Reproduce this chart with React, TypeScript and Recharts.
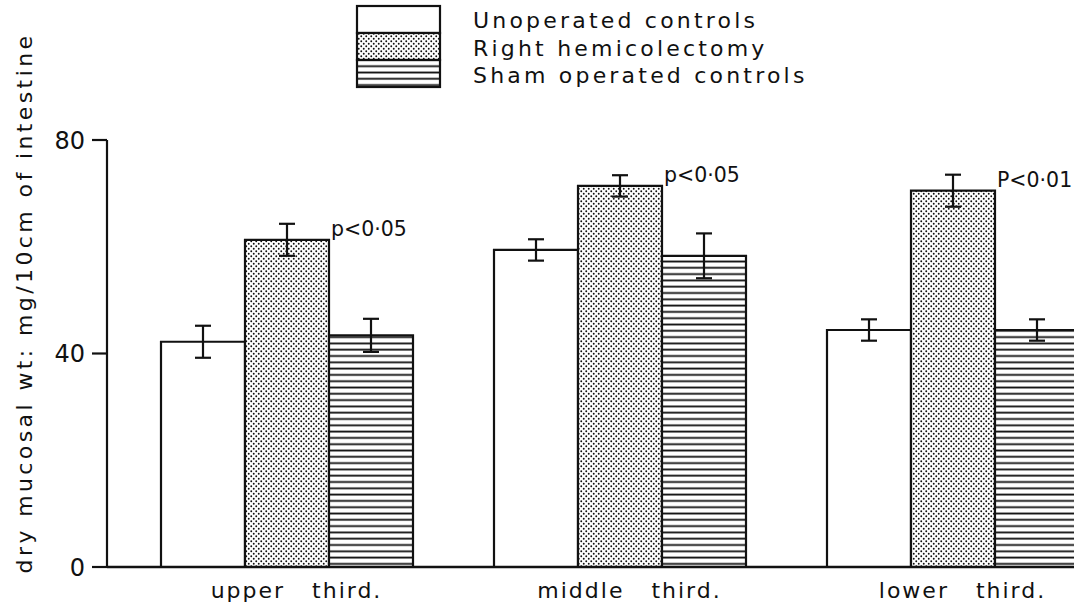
import React from 'react';
import { BarChart, Bar, XAxis, YAxis, ErrorBar, LabelList, Legend, Label } from 'recharts';

const categories = ['upper   third.', 'middle   third.', 'lower   third.'];
const unoperated = [42.2, 59.4, 44.4];
const unoperatedErr = [3.0, 2.0, 2.0];
const hemicolectomy = [61.3, 71.4, 70.5];
const hemicolectomyErr = [3.0, 2.0, 3.0];
const sham = [43.4, 58.3, 44.4];
const shamErr = [3.1, 4.2, 2.0];
const pLabels = ['p<0·05', 'p<0·05', 'P<0·01'];
const yTicks = [0, 40, 80];
const seriesNames = ['Unoperated controls', 'Right hemicolectomy', 'Sham operated controls'];
const yAxisTitle = 'dry mucosal wt: mg/10cm of intestine';

const data = categories.map((name, i) => ({
  name,
  uno: unoperated[i],
  unoErr: unoperatedErr[i],
  hemi: hemicolectomy[i],
  hemiErr: hemicolectomyErr[i],
  sham: sham[i],
  shamErr: shamErr[i],
  p: pLabels[i],
}));

const FONT = '"DejaVu Sans", sans-serif';
const INK = '#111';
const fills = ['#ffffff', 'url(#dotsPat)', 'url(#stripePat)'];

const Patterns = () => (
  <svg width={0} height={0} style={{ position: 'absolute' }}>
    <defs>
      <pattern id="dotsPat" patternUnits="userSpaceOnUse" width={5} height={5}>
        <rect x={0} y={0} width={5} height={5} fill="#fff" />
        <circle cx={1.25} cy={1.25} r={0.95} fill="#111" />
        <circle cx={3.75} cy={3.75} r={0.95} fill="#111" />
      </pattern>
      <pattern id="stripePat" patternUnits="userSpaceOnUse" width={10} height={6.3}>
        <rect x={0} y={0} width={10} height={6.3} fill="#fff" />
        <rect x={0} y={2.3} width={10} height={1.8} fill="#111" />
      </pattern>
    </defs>
  </svg>
);

const renderLegend = () => (
  <svg width={1074} height={100} style={{ display: 'block' }}>
    {seriesNames.map((n, i) => (
      <g key={n}>
        <rect x={357} y={6 + i * 27} width={83} height={27} fill={fills[i]} stroke={INK} strokeWidth={2.2} />
        <text x={473} y={28 + i * 27.5} fontFamily={FONT} fontSize={22} letterSpacing={3.2} fill={INK} style={{ whiteSpace: 'pre' }}>
          {n}
        </text>
      </g>
    ))}
  </svg>
);

const XTick = (props: any) => {
  const { x, y, payload } = props;
  return (
    <text x={x + 10} y={y + 31} textAnchor="middle" fontFamily={FONT} fontSize={22} letterSpacing={2} fill={INK} style={{ whiteSpace: 'pre' }}>
      {payload.value}
    </text>
  );
};

const renderP = (props: any) => {
  const { x, y, width, value } = props;
  return (
    <text x={x + width + 2} y={y - 4} fontFamily={FONT} fontSize={20.5} fill={INK}>
      {value}
    </text>
  );
};

const renderYTitle = () => (
  <text
    x={24}
    y={303}
    transform="rotate(-90, 24, 303)"
    textAnchor="middle"
    dominantBaseline="central"
    fontFamily={FONT}
    fontSize={22}
    letterSpacing={3.4}
    fill={INK}
  >
    {yAxisTitle}
  </text>
);

export default function App() {
  return (
    <div style={{ position: 'fixed', left: 0, top: 0, width: 1074, height: 611, overflow: 'hidden', background: '#fff' }}>
      <Patterns />
      <BarChart
        width={1119}
        height={611}
        data={data}
        margin={{ top: 140, right: 0, bottom: 0, left: 0 }}
        barCategoryGap={41}
        barGap={0}
      >
        <Legend
          layout="vertical"
          align="center"
          verticalAlign="middle"
          content={renderLegend}
          wrapperStyle={{ position: 'absolute', left: 0, top: 0, width: 1074, height: 100 }}
        />
        <XAxis
          dataKey="name"
          height={44}
          padding={{ left: 13, right: 0 }}
          axisLine={{ stroke: INK, strokeWidth: 2.5 }}
          tickLine={false}
          tickSize={0}
          tickMargin={0}
          tick={<XTick />}
          interval={0}
        />
        <YAxis
          width={107}
          domain={[0, 80]}
          ticks={yTicks}
          interval={0}
          axisLine={{ stroke: INK, strokeWidth: 2.2 }}
          tickLine={{ stroke: INK, strokeWidth: 2.2 }}
          tickSize={15}
          tickMargin={7}
          tick={{ fill: INK, fontSize: 24, fontFamily: FONT }}
        >
          <Label content={renderYTitle} />
        </YAxis>
        <Bar dataKey="uno" name={seriesNames[0]} fill={fills[0]} stroke={INK} strokeWidth={2.2} isAnimationActive={false}>
          <ErrorBar dataKey="unoErr" width={8} stroke={INK} strokeWidth={2.2} />
        </Bar>
        <Bar dataKey="hemi" name={seriesNames[1]} fill={fills[1]} stroke={INK} strokeWidth={2.2} isAnimationActive={false}>
          <ErrorBar dataKey="hemiErr" width={8} stroke={INK} strokeWidth={2.2} />
          <LabelList dataKey="p" content={renderP} />
        </Bar>
        <Bar dataKey="sham" name={seriesNames[2]} fill={fills[2]} stroke={INK} strokeWidth={2.2} isAnimationActive={false}>
          <ErrorBar dataKey="shamErr" width={8} stroke={INK} strokeWidth={2.2} />
        </Bar>
      </BarChart>
    </div>
  );
}
